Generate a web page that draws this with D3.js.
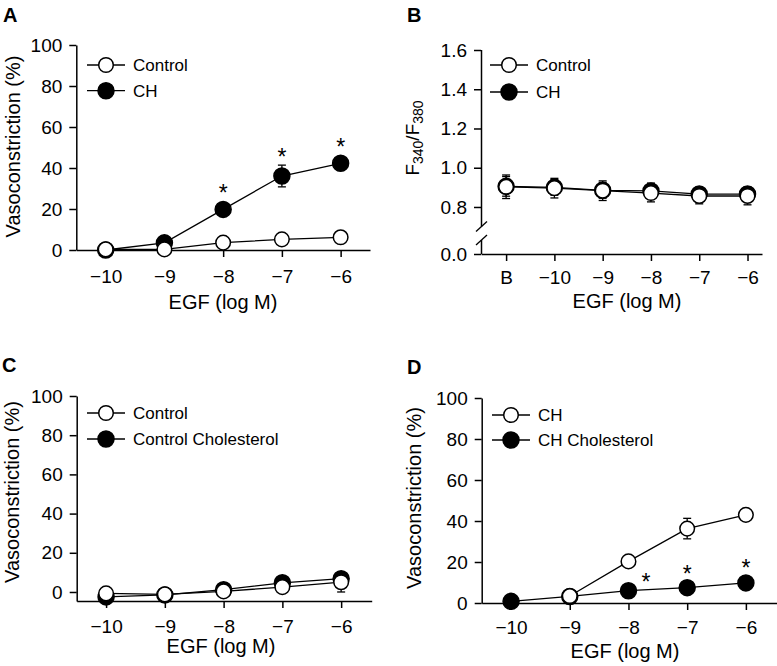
<!DOCTYPE html>
<html><head><meta charset="utf-8">
<script src="https://cdn.jsdelivr.net/npm/d3@7"></script>
<style>
body{margin:0;background:#fff}
svg{display:block}
text{font-family:"Liberation Sans",Arial,Helvetica,sans-serif;fill:#000}
</style>
</head><body>
<svg id="chart" width="777" height="666"></svg>
<script>
// ---------- data ----------
const egfLevels = [-10, -9, -8, -7, -6];
const bCategories = [0, 1, 2, 3, 4, 5];
const bTickLabels = ["B", "\u221210", "\u22129", "\u22128", "\u22127", "\u22126"];
const vasoTicks = [0, 20, 40, 60, 80, 100];
const ratioTicks = [0.0, 0.8, 1.0, 1.2, 1.4, 1.6];

// Panel A
const aControl    = [0.3, 0.3, 3.6, 5.2, 6.2];
const aControlErr = [0.5, 0.5, 1.0, 1.0, 1.0];
const aCH         = [0.0, 3.5, 19.8, 36.1, 42.3];
const aCHErr      = [0.5, 1.0, 3.0, 5.3, 1.5];
const aStarX      = [-8, -7, -6];
const aStarY      = [30.2, 47.8, 52.7];

// Panel B
const bControl    = [0.903, 0.896, 0.883, 0.871, 0.856, 0.856];
const bControlErr = [0.06, 0.05, 0.05, 0.045, 0.04, 0.045];
const bCH         = [0.905, 0.900, 0.885, 0.882, 0.866, 0.866];
const bCHErr      = [0.05, 0.04, 0.04, 0.04, 0.035, 0.035];

// Panel C
const cControl    = [-0.7, -1.2, 0.3, 2.5, 5.0];
const cControlErr = [1.0, 1.0, 1.0, 1.5, 5.0];
const cChol       = [-2.5, -1.5, 1.2, 4.7, 6.8];
const cCholErr    = [1.5, 1.0, 1.0, 1.0, 2.5];

// Panel D
const dCH         = [null, 3.4, 20.3, 36.3, 43.0];
const dCHErr      = [null, 1.0, 2.5, 5.0, 1.5];
const dChol       = [0.8, 3.2, 6.0, 7.5, 9.8];
const dCholErr    = [0.5, 0.5, 1.0, 1.0, 1.5];
const dStarX      = [-7.7, -7, -6];
const dStarY      = [12.8, 16.4, 19.7];

// ---------- drawing ----------
const svg = d3.select("#chart");
const FONT_TICK = 19, FONT_LEG = 17, FONT_TITLE = 20;

function series(xs, vals, errs, filled) {
  return { filled, pts: xs.map((x, i) => ({ x, v: vals[i], e: errs[i] })) };
}

function drawPanel(p) {
  const g = svg.append("g");
  const x = p.x, y = p.y;
  const x0 = x.range()[0];
  const axisY = y(p.xAxisAt);

  const ya = d3.axisLeft(y).tickValues(p.yTicks).tickFormat(p.yFormat)
    .tickSize(7).tickPadding(7).tickSizeOuter(0);
  const yg = g.append("g").attr("transform", `translate(${x0},0)`).call(ya);
  const xa = d3.axisBottom(x).tickValues(p.xTicks).tickFormat(p.xFormat)
    .tickSize(7).tickPadding(p.xPad).tickSizeOuter(0);
  const xg = g.append("g").attr("transform", `translate(0,${axisY})`).call(xa);

  [yg, xg].forEach(a => {
    a.selectAll("path,line").attr("stroke", "#000").attr("stroke-width", 1.5);
    a.selectAll("text").attr("font-size", FONT_TICK).attr("fill", "#000")
      .attr("font-family", '"Liberation Sans",Arial,sans-serif');
  });

  if (p.breakAt) {
    yg.select(".domain").remove();
    const [lo, hi] = p.breakAt;
    const top = y.range()[y.range().length - 1];
    const bot = y.range()[0];
    const ax = x0 + 0.5;
    g.append("line").attr("x1", ax).attr("x2", ax).attr("y1", top).attr("y2", y(hi))
      .attr("stroke", "#000").attr("stroke-width", 1.5);
    g.append("line").attr("x1", ax).attr("x2", ax).attr("y1", y(lo)).attr("y2", bot)
      .attr("stroke", "#000").attr("stroke-width", 1.5);
    [hi, lo].forEach(v => {
      const yc = y(v);
      g.append("line").attr("x1", ax - 5.5).attr("x2", ax + 5.5)
        .attr("y1", yc + 5).attr("y2", yc - 5)
        .attr("stroke", "#000").attr("stroke-width", 1.3);
    });
  }

  const line = d3.line().defined(d => d.v != null).x(d => x(d.x)).y(d => y(d.v));

  p.series.forEach(s => {
    s.pts.filter(d => d.v != null && d.e).forEach(d => {
      const cx = x(d.x), yt = y(d.v + d.e), yb = y(d.v - d.e);
      g.append("line").attr("x1", cx).attr("x2", cx).attr("y1", yt).attr("y2", yb)
        .attr("stroke", "#000").attr("stroke-width", 1.3);
      [yt, yb].forEach(yy => g.append("line").attr("x1", cx - 4).attr("x2", cx + 4)
        .attr("y1", yy).attr("y2", yy).attr("stroke", "#000").attr("stroke-width", 1.3));
    });
  });
  const ordered = p.series.slice().sort((a, b) => (b.filled ? 1 : 0) - (a.filled ? 1 : 0));
  ordered.forEach(s => {
    g.append("path").datum(s.pts).attr("d", line)
      .attr("fill", "none").attr("stroke", "#000").attr("stroke-width", 1.3);
  });
  ordered.forEach(s => {
    g.selectAll(null).data(s.pts.filter(d => d.v != null)).enter().append("circle")
      .attr("cx", d => x(d.x)).attr("cy", d => y(d.v))
      .attr("r", s.filled ? 8 : 7.3)
      .attr("fill", s.filled ? "#000" : "#fff")
      .attr("stroke", "#000").attr("stroke-width", 1.5);
  });

  if (p.stars) {
    p.stars.x.forEach((sx, i) => {
      g.append("text").attr("x", x(sx)).attr("y", y(p.stars.y[i]) + 13)
        .attr("text-anchor", "middle").attr("font-size", 23).text("*");
    });
  }

  p.legend.forEach((L, i) => {
    const ly = p.legendY[i], lx = p.legendX;
    g.append("line").attr("x1", lx - 19).attr("x2", lx + 19).attr("y1", ly).attr("y2", ly)
      .attr("stroke", "#000").attr("stroke-width", 1.3);
    g.append("circle").attr("cx", lx).attr("cy", ly).attr("r", L.filled ? 8 : 7.3)
      .attr("fill", L.filled ? "#000" : "#fff").attr("stroke", "#000").attr("stroke-width", 1.5);
    g.append("text").attr("x", lx + 27).attr("y", ly + 6).attr("font-size", FONT_LEG).text(L.name);
  });

  g.append("text").attr("x", p.xTitle[0]).attr("y", p.xTitle[1])
    .attr("text-anchor", "middle").attr("font-size", FONT_TITLE).text("EGF (log M)");

  const yt = g.append("text")
    .attr("transform", `translate(${p.yTitle[0]},${p.yTitle[1]}) rotate(-90)`)
    .attr("text-anchor", "middle").attr("font-size", FONT_TITLE);
  if (p.yTitleParts) {
    p.yTitleParts.forEach(part => {
      yt.append("tspan").attr("font-size", part.sub ? 14 : 19)
        .attr("dy", part.dy).text(part.t);
    });
  } else {
    yt.text("Vasoconstriction (%)");
  }

  g.append("text").attr("x", p.letterPos[0]).attr("y", p.letterPos[1])
    .attr("font-size", 20).attr("font-weight", "bold").text(p.letter);
}

const vasoFmt = d3.format("d");
const egfFmt = d => "\u2212" + Math.abs(d);

drawPanel({
  letter: "A", letterPos: [3, 22],
  x: d3.scaleLinear().domain([-10.5, -5.5]).range([76.3, 370]),
  y: d3.scaleLinear().domain([0, 100]).range([250, 45]),
  xAxisAt: 0, xTicks: egfLevels, xFormat: egfFmt, xPad: 13,
  yTicks: vasoTicks, yFormat: vasoFmt,
  series: [series(egfLevels, aControl, aControlErr, false), series(egfLevels, aCH, aCHErr, true)],
  legend: [{ name: "Control", filled: false }, { name: "CH", filled: true }],
  legendX: 106, legendY: [65, 90.7],
  stars: { x: aStarX, y: aStarY },
  xTitle: [223, 309], yTitle: [20, 146.5]
});

drawPanel({
  letter: "B", letterPos: [407, 22],
  x: d3.scaleLinear().domain([-0.52, 5.3]).range([481, 762]),
  y: d3.scaleLinear().domain([0, 0.1, 0.7, 1.6]).range([254, 240, 226.6, 50]),
  xAxisAt: 0, xTicks: bCategories, xFormat: i => bTickLabels[i], xPad: 9.5,
  yTicks: ratioTicks, yFormat: d3.format(".1f"),
  breakAt: [0.1, 0.7],
  series: [series(bCategories, bControl, bControlErr, false), series(bCategories, bCH, bCHErr, true)],
  legend: [{ name: "Control", filled: false }, { name: "CH", filled: true }],
  legendX: 509, legendY: [65, 92],
  xTitle: [627, 308], yTitle: [419, 138],
  yTitleParts: [
    { t: "F", dy: 0 }, { t: "340", sub: true, dy: 4 },
    { t: "/", dy: -4 }, { t: "F", dy: 0 }, { t: "380", sub: true, dy: 4 }
  ]
});

drawPanel({
  letter: "C", letterPos: [2, 372],
  x: d3.scaleLinear().domain([-10.5, -5.48]).range([76.7, 371.7]),
  y: d3.scaleLinear().domain([-4.6, 100]).range([601, 396]),
  xAxisAt: -4.6, xTicks: egfLevels, xFormat: egfFmt, xPad: 11.4,
  yTicks: vasoTicks, yFormat: vasoFmt,
  series: [series(egfLevels, cControl, cControlErr, false), series(egfLevels, cChol, cCholErr, true)],
  legend: [{ name: "Control", filled: false }, { name: "Control Cholesterol", filled: true }],
  legendX: 106, legendY: [413, 439],
  xTitle: [221, 653], yTitle: [19, 492]
});

drawPanel({
  letter: "D", letterPos: [407, 374],
  x: d3.scaleLinear().domain([-10.5, -5.47]).range([481.7, 777]),
  y: d3.scaleLinear().domain([0, 100]).range([603, 398]),
  xAxisAt: 0, xTicks: egfLevels, xFormat: egfFmt, xPad: 10.4,
  yTicks: vasoTicks, yFormat: vasoFmt,
  series: [series(egfLevels, dCH, dCHErr, false), series(egfLevels, dChol, dCholErr, true)],
  legend: [{ name: "CH", filled: false }, { name: "CH Cholesterol", filled: true }],
  legendX: 511, legendY: [415, 440],
  stars: { x: dStarX, y: dStarY },
  xTitle: [625, 658], yTitle: [421, 498]
});
</script>
</body></html>
